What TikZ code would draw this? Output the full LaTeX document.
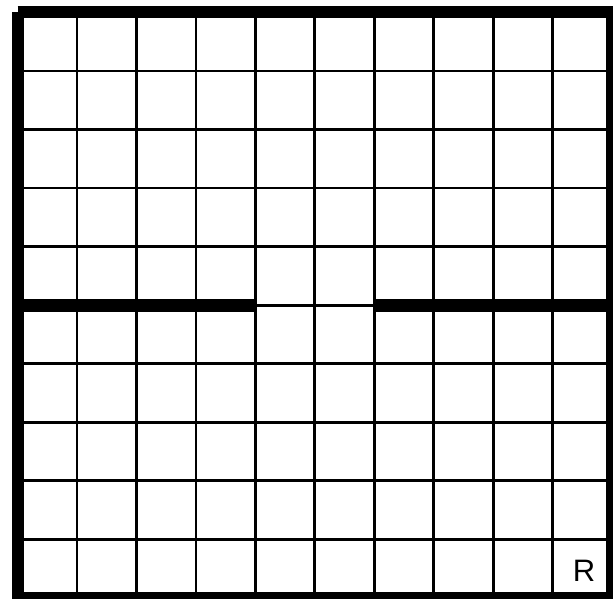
\documentclass[tikz,border=0pt]{standalone}
\usepackage{fontspec}
\setmainfont{Liberation Sans}
\tikzset{
  thinline/.style={line width=2.8pt, line cap=butt},
  thickline/.style={line width=12pt, line cap=butt},
  midline/.style={line width=13pt, line cap=butt},
  label/.style={font=\fontsize{31}{31}\selectfont, inner sep=0pt}
}
\begin{document}
\begin{tikzpicture}[x=1pt,y=-1pt]
\useasboundingbox (0,0) rectangle (613,599);
\clip (0,0) rectangle (613,599);
\fill[white] (0,0) rectangle (613,599);
\def\xa{17.6}\def\dx{59.44}
\def\ya{12.4}\def\dy{58.56}
% thin grid
\foreach \i in {1,...,9}{
  \draw[thinline] ({\xa+\i*\dx},\ya) -- ({\xa+\i*\dx},{\ya+10*\dy});
  \draw[thinline] (\xa,{\ya+\i*\dy}) -- ({\xa+10*\dx},{\ya+\i*\dy});
}
% thick borders
\draw[thickline] (\xa,\ya) -- (625,\ya);
\draw[thickline] (\xa,\ya) -- (\xa,610);
\draw[thickline] ({\xa+10*\dx},\ya) -- ({\xa+10*\dx},610);
\draw[thickline] (\xa,{\ya+10*\dy}) -- (625,{\ya+10*\dy});
% middle thick segments
\draw[midline] (\xa,{\ya+5*\dy}) -- ({\xa+4*\dx},{\ya+5*\dy});
\draw[midline] ({\xa+6*\dx},{\ya+5*\dy}) -- ({\xa+10*\dx},{\ya+5*\dy});
\node[label] (r) at (584,571) {R};
\end{tikzpicture}
\end{document}
